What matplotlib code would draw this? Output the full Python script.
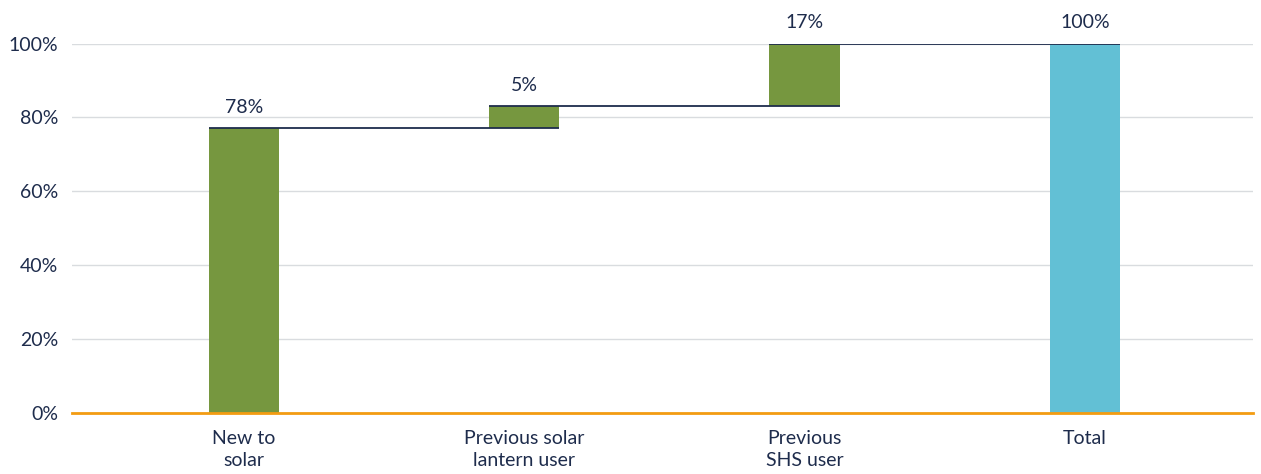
import matplotlib.pyplot as plt

plt.rcParams['font.family'] = ['Lato', 'DejaVu Sans']

categories = ['New to\nsolar', 'Previous solar\nlantern user', 'Previous\nSHS user', 'Total']
steps = [77, 6, 17]          # bar heights
value_labels = ['78%', '5%', '17%', '100%']
total = 100

navy = '#1e2c4c'
green = '#76973f'
blue = '#62c0d5'

fig = plt.figure(figsize=(12.61, 4.74), dpi=100)
ax = fig.add_axes([0.0571, 0.1287, 0.9366, 0.7795])

x = list(range(len(categories)))
w = 0.25

bottoms = []
tops = []
run = 0
for s in steps:
    bottoms.append(run)
    run += s
    tops.append(run)

ax.bar(x[:3], steps, bottom=bottoms, width=w, color=green, zorder=3)
ax.bar(x[3], total, width=w, color=blue, zorder=3)
tops.append(total)

# connector lines from each bar top to the next bar
for i in range(len(x) - 1):
    ax.plot([x[i] - w / 2, x[i + 1] + w / 2], [tops[i], tops[i]],
            color=navy, lw=1.3, zorder=4, solid_capstyle='butt')

for xi, top, lab in zip(x, tops, value_labels):
    ax.text(xi, top + 3.4, lab, ha='center', va='bottom', fontsize=14, color=navy)

ax.set_xlim(-0.613, 3.6)
ax.set_ylim(0, 100)
ax.set_yticks(range(0, 101, 20))
ax.set_yticklabels([f'{v}%' for v in range(0, 101, 20)])
ax.set_xticks(x)
ax.set_xticklabels(categories, linespacing=1.4)
ax.tick_params(axis='both', length=0, labelsize=14, colors=navy)
ax.tick_params(axis='y', pad=10)
ax.tick_params(axis='x', pad=12)

ax.grid(axis='y', color='#d9dcdf', lw=1, zorder=0)
for sp in ax.spines.values():
    sp.set_visible(False)
ax.axhline(0, color='#f39c12', lw=2, zorder=5, clip_on=False)

fig.savefig('out.png', dpi=100)
